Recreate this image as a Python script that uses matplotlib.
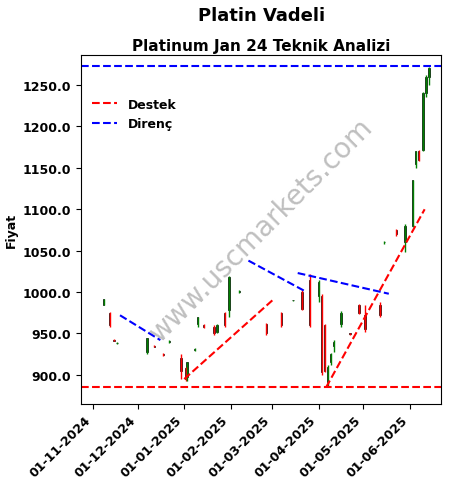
import matplotlib.pyplot as plt
import matplotlib.dates as mdates
import pandas as pd

# candles: date, open, high, low, close
dates = ['2024-11-08', '2024-11-12', '2024-11-15', '2024-11-17', '2024-12-07', '2024-12-12',
         '2024-12-18', '2024-12-22', '2024-12-30', '2025-01-02', '2025-01-03', '2025-01-08',
         '2025-01-10', '2025-01-14', '2025-01-21', '2025-01-23', '2025-01-28', '2025-01-31',
         '2025-02-07', '2025-02-25', '2025-03-07', '2025-03-15', '2025-03-21', '2025-03-26',
         '2025-04-01', '2025-04-03', '2025-04-05', '2025-04-07', '2025-04-09', '2025-04-11',
         '2025-04-16', '2025-04-22', '2025-04-28', '2025-05-02', '2025-05-12', '2025-05-15',
         '2025-05-23', '2025-05-29', '2025-06-03', '2025-06-05', '2025-06-07', '2025-06-10',
         '2025-06-12', '2025-06-14']
opens = [985, 975, 942, 938, 928, 935, 925, 940, 920, 908, 897, 930, 962, 960, 958, 952, 975, 978,
         1000, 962, 975, 990, 1000, 1015, 995, 995, 960, 892, 915, 935, 962, 950, 985, 972, 985,
         1060, 1075, 1060, 1080, 1155, 1170, 1172, 1240, 1260]
highs = [992, 976, 943, 940, 945, 936, 927, 942, 925, 910, 916, 932, 970, 961, 960, 962, 976, 1020,
         1002, 963, 976, 991, 1002, 1022, 1015, 998, 962, 912, 926, 942, 977, 951, 986, 985, 988,
         1062, 1076, 1082, 1135, 1170, 1172, 1242, 1262, 1272]
lows = [984, 958, 941, 937, 925, 934, 923, 939, 895, 893, 893, 929, 958, 957, 948, 950, 958, 970,
        999, 948, 958, 989, 978, 958, 988, 900, 903, 885, 912, 928, 958, 948, 974, 952, 970,
        1058, 1068, 1048, 1078, 1150, 1158, 1170, 1235, 1250]
closes = [992, 960, 941, 939, 945, 934, 924, 941, 905, 895, 915, 931, 970, 958, 950, 960, 960, 1018,
          1001, 950, 960, 991, 980, 960, 1012, 903, 905, 910, 925, 940, 975, 949, 975, 955, 972,
          1061, 1070, 1080, 1135, 1170, 1160, 1240, 1260, 1270]

support = 885
resistance = 1273
support_lines = [(('2025-01-01', 895), ('2025-03-01', 990)),
                 (('2025-04-06', 885), ('2025-06-11', 1100))]
resist_lines = [(('2024-11-19', 972), ('2024-12-16', 942)),
                (('2025-02-13', 1038), ('2025-03-24', 1000)),
                (('2025-03-18', 1023), ('2025-05-18', 998))]

df = pd.DataFrame({'date': pd.to_datetime(dates), 'open': opens, 'high': highs,
                   'low': lows, 'close': closes})

fig, ax = plt.subplots(figsize=(4.51, 4.89), dpi=100)
for _, r in df.iterrows():
    col = 'green' if r['close'] >= r['open'] else 'red'
    ax.vlines(r['date'], r['low'], r['high'], color=col, linewidth=1)
    ax.bar(r['date'], abs(r['close'] - r['open']) or 1, bottom=min(r['open'], r['close']),
           width=1.0, color=col, edgecolor='black', linewidth=0.5)

ax.axhline(support, color='red', linestyle='--', linewidth=1.5, label='Destek')
ax.axhline(resistance, color='blue', linestyle='--', linewidth=1.5, label='Direnç')
for (d1, v1), (d2, v2) in support_lines:
    ax.plot(pd.to_datetime([d1, d2]), [v1, v2], 'r--', linewidth=1.5)
for (d1, v1), (d2, v2) in resist_lines:
    ax.plot(pd.to_datetime([d1, d2]), [v1, v2], 'b--', linewidth=1.5)

ax.set_xlim(pd.Timestamp('2024-10-24'), pd.Timestamp('2025-06-22'))
ax.set_ylim(865, 1286)
ax.xaxis.set_major_locator(mdates.MonthLocator())
ax.xaxis.set_major_formatter(mdates.DateFormatter('%d-%m-%Y'))
ax.yaxis.set_major_formatter(plt.FormatStrFormatter('%.1f'))
plt.setp(ax.get_xticklabels(), rotation=45, ha='right', fontweight='bold', fontsize=9)
plt.setp(ax.get_yticklabels(), fontweight='bold', fontsize=9)
ax.set_ylabel('Fiyat', fontweight='bold', fontsize=9)
ax.set_title('Platinum Jan 24 Teknik Analizi', fontweight='bold', fontsize=11, pad=4)
fig.suptitle('Platin Vadeli', fontweight='bold', fontsize=13, x=0.58, y=0.985)
ax.legend(loc='upper left', bbox_to_anchor=(0.0, 0.91), frameon=False,
          prop={'weight': 'bold', 'size': 9})
ax.text(0.5, 0.5, 'www.uscmarkets.com', transform=ax.transAxes, rotation=45, fontsize=20,
        color='gray', alpha=0.5, ha='center', va='center')

fig.subplots_adjust(left=0.18, right=0.978, top=0.885, bottom=0.172)
fig.savefig('out.png')
